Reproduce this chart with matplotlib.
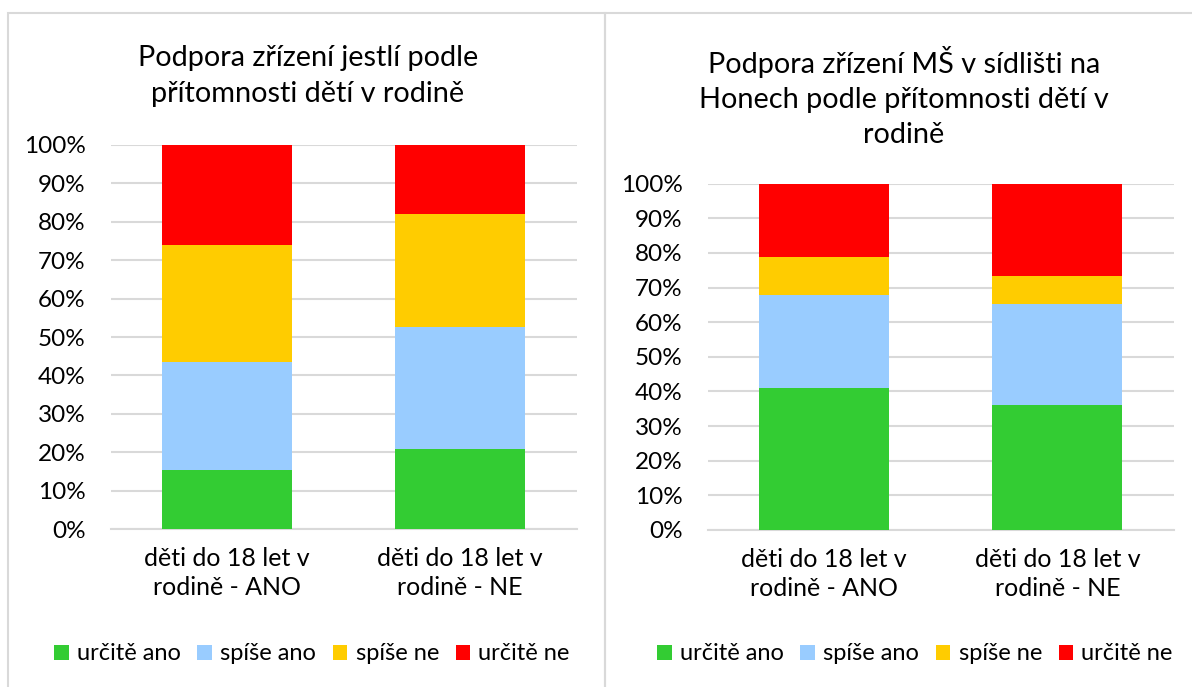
import matplotlib.pyplot as plt
from matplotlib.patches import Patch, Rectangle
from matplotlib.ticker import PercentFormatter

plt.rcParams['font.family'] = ['Lato', 'DejaVu Sans']

# ── data (percent) ──
categories = ['děti do 18 let v\nrodině - ANO', 'děti do 18 let v\nrodině - NE']
series = ['určitě ano', 'spíše ano', 'spíše ne', 'určitě ne']
colors = ['#33CC33', '#99CCFF', '#FFCC00', '#FF0000']

jesle_urcite_ano = [15.5, 20.9]
jesle_spise_ano = [28.0, 31.6]
jesle_spise_ne = [30.3, 29.4]
jesle_urcite_ne = [26.2, 18.1]

ms_urcite_ano = [41.1, 36.2]
ms_spise_ano = [26.8, 29.2]
ms_spise_ne = [11.0, 8.0]
ms_urcite_ne = [21.1, 26.6]

title_left = 'Podpora zřízení jestlí podle\npřítomnosti dětí v rodině'
title_right = 'Podpora zřízení MŠ v sídlišti na\nHonech podle přítomnosti dětí v\nrodině'

W, H = 1192, 687
fig = plt.figure(figsize=(W / 100, H / 100), dpi=100)
grid_c = '#D9D9D9'


def px_axes(x0, x1, y_top, y_bot):
    return fig.add_axes([x0 / W, 1 - y_bot / H, (x1 - x0) / W, (y_bot - y_top) / H])


def stacked(ax, data):
    xs = range(len(categories))
    bottom = [0] * len(categories)
    for vals, c in zip(data, colors):
        ax.bar(xs, vals, bottom=bottom, width=0.558, color=c, zorder=3)
        bottom = [b + v for b, v in zip(bottom, vals)]
    ax.set_xlim(-0.5, 1.5)
    ax.set_ylim(0, 100)
    ax.set_yticks(range(0, 101, 10))
    ax.yaxis.set_major_formatter(PercentFormatter(decimals=0))
    ax.set_xticks(list(xs))
    ax.set_xticklabels(categories, fontsize=18, linespacing=1.32)
    ax.tick_params(axis='y', length=0, pad=18, labelsize=17.5)
    ax.tick_params(axis='x', length=0, pad=13)
    ax.grid(axis='y', color=grid_c, lw=1.5, zorder=0)
    for s in ['top', 'right', 'left']:
        ax.spines[s].set_visible(False)
    ax.spines['bottom'].set_color(grid_c)
    ax.spines['bottom'].set_linewidth(1.5)


# ── panel frames ──
fig.patches.append(Rectangle((8 / W, -0.1), 597 / W, 1.1 - 13 / H, transform=fig.transFigure,
                             fill=False, edgecolor=grid_c, lw=1.5))
fig.patches.append(Rectangle((605 / W, -0.1), 620 / W, 1.1 - 13 / H, transform=fig.transFigure,
                             fill=False, edgecolor=grid_c, lw=1.5))

ax1 = px_axes(110.5, 576.5, 144.7, 529.3)
stacked(ax1, [jesle_urcite_ano, jesle_spise_ano, jesle_spise_ne, jesle_urcite_ne])
ax2 = px_axes(707.7, 1174, 183.7, 530)
stacked(ax2, [ms_urcite_ano, ms_spise_ano, ms_spise_ne, ms_urcite_ne])

fig.text(308 / W, 1 - 76 / H, title_left, ha='center', va='center', fontsize=20.8, linespacing=1.45)
fig.text(904 / W, 1 - 97 / H, title_right, ha='center', va='center', fontsize=20.8, linespacing=1.45)

handles = [Patch(facecolor=c, edgecolor='none') for c in colors]
for cx in (312, 915):
    fig.legend(handles, series, loc='center', bbox_to_anchor=(cx / W, 1 - 654 / H), ncol=4,
               frameon=False, fontsize=17, handlelength=0.62, handleheight=0.62,
               handletextpad=0.35, columnspacing=0.7)

plt.savefig('out.png', dpi=100)
